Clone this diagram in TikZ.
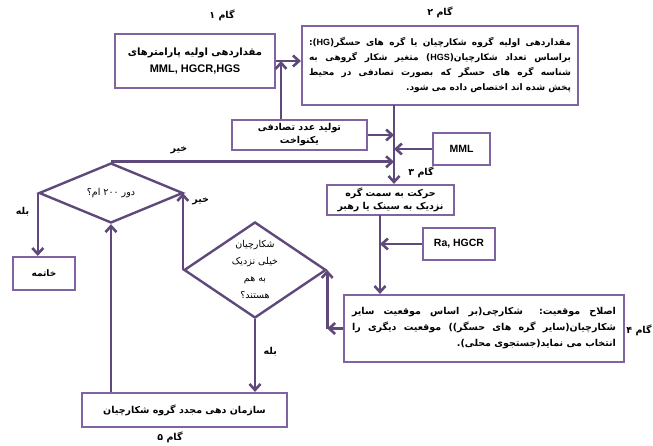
\documentclass[tikz,border=0pt]{standalone}
\usepackage{fontspec}
\setmainfont{Liberation Sans}
\newfontfamily\fafont[Script=Arabic]{DejaVu Sans}
\usetikzlibrary{arrows.meta,shapes.geometric}
\TeXXeTstate=1
\definecolor{boxline}{HTML}{8064A2}
\definecolor{flowline}{HTML}{5F497A}
\newcommand{\fa}[1]{{\fafont #1}}
\newcommand{\lat}[1]{\beginL{\normalfont\bfseries #1}\endL}
\newcommand{\jline}[2]{\hbox to #1{\fafont #2}}
\newcommand{\rline}[2]{\hbox to #1{\fafont\hfill #2}}
\begin{document}
\begin{tikzpicture}[x=1pt,y=-1pt,
    box/.style = {draw=boxline, line width=2.2pt, fill=white, inner sep=2pt, align=center},
    decision/.style = {diamond, draw=flowline, line width=2.4pt, inner sep=0pt},
    flow/.style = {draw=flowline, line width=2.6pt, -{Straight Barb[length=6pt,width=11pt]}},
    steplabel/.style = {font=\fontsize{9.5}{11}\selectfont\bfseries},
    fatext/.style = {font=\fontsize{9}{15}\selectfont\bfseries}]
    \useasboundingbox (0,0) rectangle (653,446);

    % boxes
    \node[box, minimum width=160pt, minimum height=54pt,
          font=\fontsize{10}{15}\selectfont\bfseries] (init) at (195,61)
        {\fa{\beginR مقداردهی اولیه پارامترهای\endR}\\[2pt]{\fontsize{11}{13}\selectfont MML, HGCR,HGS}};
    \node[box, fatext, minimum width=276pt, minimum height=79pt, align=right] (hg) at (440,65.5)
        {\jline{262pt}{\beginR مقداردهی اولیه گروه شکارچیان یا گره های حسگر(\lat{HG}):\endR}\\
         \jline{262pt}{\beginR براساس تعداد شکارچیان(\lat{HGS}) متغیر شکار گروهی به\endR}\\
         \jline{262pt}{\beginR شناسه گره های حسگر که بصورت تصادفی در محیط\endR}\\
         \rline{262pt}{\beginR پخش شده اند اختصاص داده می شود.\endR}};
    \node[box, minimum width=135pt, minimum height=30pt, inner sep=0pt,
          font=\fontsize{9.5}{13}\selectfont\bfseries] (rnd) at (299.5,135)
        {\fa{\beginR تولید عدد تصادفی\endR}\\\fa{\beginR یکنواخت\endR}};
    \node[box, minimum width=57pt, minimum height=32pt, font=\fontsize{10.5}{12}\selectfont\bfseries] (mml) at (461.5,149) {MML};
    \node[box, minimum width=127pt, minimum height=30pt, inner sep=0pt,
          font=\fontsize{9.5}{13}\selectfont\bfseries] (move) at (390.5,200)
        {\fa{\beginR حرکت به سمت گره\endR}\\\fa{\beginR نزدیک به سینک یا رهبر\endR}};
    \node[box, minimum width=72pt, minimum height=32pt, font=\fontsize{10.5}{12}\selectfont\bfseries] (ra) at (459,244) {Ra, HGCR};
    \node[box, minimum width=280pt, minimum height=67pt, align=right,
          font=\fontsize{9.5}{16}\selectfont\bfseries] (fix) at (484,328.5)
        {\jline{264pt}{\beginR اصلاح موقعیت: شکارچی(بر اساس موقعیت سایر\endR}\\
         \jline{264pt}{\beginR شکارچیان(سایر گره های حسگر)) موقعیت دیگری را\endR}\\
         \rline{264pt}{\beginR انتخاب می نماید(جستجوی محلی).\endR}};
    \node[box, minimum width=205pt, minimum height=34pt,
          font=\fontsize{9.5}{15}\selectfont\bfseries] (reorg) at (184.5,410)
        {\fa{\beginR سازمان دهی مجدد گروه شکارچیان\endR}};
    \node[box, fatext, minimum width=62pt, minimum height=33pt] (stop) at (44,273.5)
        {\fa{\beginR خاتمه\endR}};

    % decisions
    \node[decision, minimum width=144pt, minimum height=60pt] (round) at (111,193) {};
    \node[font=\fontsize{9.5}{11}\selectfont] (roundtxt) at (round.center) {\fa{\beginR دور ۲۰۰ ام؟\endR}};
    \node[decision, minimum width=142pt, minimum height=96pt] (close) at (255,270) {};
    \node[font=\fontsize{9.5}{17}\selectfont, align=center] (closetxt) at (close.center)
        {\fa{\beginR شکارچیان\endR}\\\fa{\beginR خیلی نزدیک\endR}\\\fa{\beginR به هم\endR}\\\fa{\beginR هستند؟\endR}};

    % connectors
    \coordinate (join) at (281,61);
    \coordinate (trunk) at (394,105);
    \coordinate (down) at (380,215);
    \draw[flow] (init.east) -- (init.east -| hg.west);
    \draw[flow] (rnd.north -| join) -- (join);
    \draw[flow] (trunk) -- (trunk |- move.north);
    \draw[flow] (rnd.east) -- (rnd.east -| trunk);
    \draw[flow] (mml.west) -- (mml.west -| trunk);
    \draw[flow] (round.north) -- (round.north -| trunk)
        node[pos=0.24, above=3pt, steplabel, text=black] (no1) {\fa{\beginR خیر\endR}};
    \draw[flow] (down) -- (down |- fix.north);
    \draw[flow] (ra.west) -- (ra.west -| down);
    \coordinate (back) at (fix.west -| close.east);
    \draw[flow] (fix.west) -- (back);
    \draw[flow] (back) -- (close.east);
    \draw[flow] (close.south) -- (close.south |- reorg.north)
        node[pos=0.45, right=4pt, steplabel, text=black] (yes2) {\fa{\beginR بله\endR}};
    \draw[flow] (round.south |- reorg.north) -- (round.south);
    \draw[flow] (close.west) -- (close.west |- round.east)
        node[pos=0.9, right=5pt, steplabel, text=black] (no2) {\fa{\beginR خیر\endR}};
    \draw[flow] (round.west) -- (round.west |- stop.north)
        node[pos=0.3, left=4pt, steplabel, text=black] (yes1) {\fa{\beginR بله\endR}};

    % step labels
    \node[steplabel] (s1) at (222,15) {\fa{\beginR گام ۱\endR}};
    \node[steplabel] (s2) at (440,12) {\fa{\beginR گام ۲\endR}};
    \node[steplabel] (s3) at (421,172) {\fa{\beginR گام ۳\endR}};
    \node[steplabel] (s4) at (639,330) {\fa{\beginR گام ۴\endR}};
    \node[steplabel] (s5) at (170,437) {\fa{\beginR گام ۵\endR}};
\end{tikzpicture}
\end{document}
